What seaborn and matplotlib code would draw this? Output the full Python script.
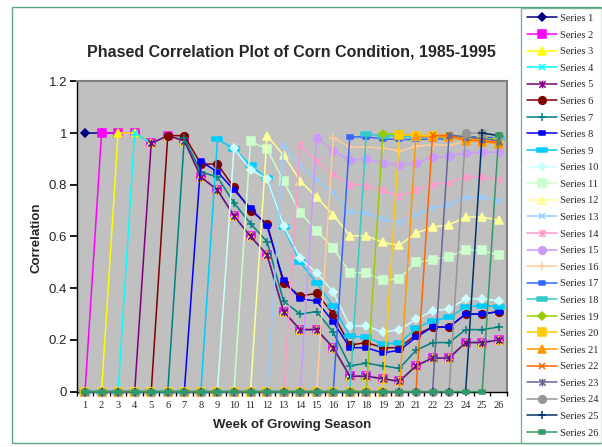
import numpy as np
import pandas as pd
import seaborn as sns
import matplotlib
matplotlib.use("Agg")
import matplotlib.pyplot as plt
from matplotlib.path import Path
from matplotlib.lines import Line2D
from matplotlib.patches import Rectangle

# Phased correlation plot - one series per starting week
weeks = list(range(1, 27))
series_names = ["Series %d" % i for i in range(1, 27)]

# values from each series' start week onward (earlier weeks are 0)
track_a = [0.96, 0.99, 0.97, 0.83, 0.78, 0.68, 0.60, 0.53, 0.31, 0.24, 0.24,
           0.17, 0.06, 0.06, 0.05, 0.04, 0.10, 0.13, 0.13, 0.19, 0.19, 0.20]
s1 = [1.0, 1.0, 1.0, 1.0] + track_a
s2 = [1.0, 1.0, 1.0] + track_a
s3 = [1.0, 1.0] + track_a
s4 = [1.0] + track_a
s5 = track_a
s6 = [0.99, 0.99, 0.88, 0.88, 0.79, 0.70, 0.65, 0.42, 0.37, 0.38, 0.30, 0.18,
      0.19, 0.17, 0.17, 0.22, 0.25, 0.25, 0.30, 0.30, 0.31]
s7 = [0.98, 0.85, 0.83, 0.73, 0.65, 0.58, 0.35, 0.30, 0.31, 0.23, 0.10, 0.11,
      0.10, 0.09, 0.16, 0.19, 0.19, 0.24, 0.24, 0.25]
s8 = [0.89, 0.85, 0.78, 0.71, 0.64, 0.43, 0.36, 0.35, 0.27, 0.17, 0.17, 0.15,
      0.16, 0.21, 0.25, 0.25, 0.30, 0.30, 0.31]
s9 = [0.975, 0.94, 0.875, 0.825, 0.635, 0.50, 0.42, 0.33, 0.215, 0.21, 0.185,
      0.187, 0.245, 0.275, 0.287, 0.328, 0.333, 0.329]
s10 = [0.942, 0.858, 0.823, 0.641, 0.515, 0.46, 0.385, 0.254, 0.254, 0.23, 0.24,
       0.28, 0.312, 0.32, 0.358, 0.36, 0.35]
s11 = [0.968, 0.938, 0.814, 0.692, 0.622, 0.555, 0.46, 0.46, 0.43, 0.437, 0.50,
       0.51, 0.522, 0.549, 0.546, 0.528]
s12 = [0.99, 0.914, 0.816, 0.751, 0.684, 0.603, 0.603, 0.577, 0.566, 0.613,
       0.636, 0.645, 0.675, 0.675, 0.663]
s13 = [0.95, 0.871, 0.817, 0.769, 0.695, 0.69, 0.667, 0.654, 0.684, 0.71, 0.723,
       0.75, 0.751, 0.737]
s14 = [0.953, 0.89, 0.842, 0.80, 0.797, 0.778, 0.758, 0.778, 0.80, 0.808, 0.83,
       0.83, 0.822]
s15 = [0.982, 0.932, 0.894, 0.90, 0.884, 0.877, 0.884, 0.906, 0.91, 0.923,
       0.926, 0.926]
s16 = [0.981, 0.946, 0.946, 0.942, 0.931, 0.948, 0.955, 0.952, 0.968, 0.968, 0.968]
s17 = [0.985, 0.985, 0.977, 0.975, 0.975, 0.977, 0.977, 0.985, 0.985, 0.98]
s18 = [0.995, 0.99, 0.988, 0.985, 0.985, 0.985, 0.98, 0.978, 0.975]
s19 = [0.997, 0.995, 0.99, 0.99, 0.985, 0.98, 0.978, 0.975]
s20 = [0.993, 0.99, 0.99, 0.985, 0.975, 0.972, 0.965]
s21 = [0.987, 0.985, 0.985, 0.97, 0.967, 0.958]
s22 = [0.991, 0.99, 0.975, 0.97, 0.963]
s23 = [0.993, 0.985, 0.978, 0.97]
s24 = [1.0, 1.0, 0.99]
s25 = [1.0, 0.99]
s26 = [0.993]

series_starts = [1, 2, 3, 4, 5, 6, 7, 8, 9, 10, 11, 12, 13, 14, 15, 16, 17, 18,
                 19, 20, 21, 22, 23, 24, 25, 26]
series_tails = [s1, s2, s3, s4, s5, s6, s7, s8, s9, s10, s11, s12, s13, s14,
                s15, s16, s17, s18, s19, s20, s21, s22, s23, s24, s25, s26]

colors = ["#000080", "#FF00FF", "#FFFF00", "#00FFFF", "#800080", "#800000",
          "#008080", "#0000FF", "#00CCFF", "#CCFFFF", "#CCFFCC", "#FFFF99",
          "#99CCFF", "#FF99CC", "#CC99FF", "#FFCC99", "#3366FF", "#33CCCC",
          "#99CC00", "#FFCC00", "#FF9900", "#FF6600", "#666699", "#969696",
          "#003366", "#339966"]

# excel style markers
star = Path([(-1, -1), (1, 1), (-1, 1), (1, -1), (0, -1.2), (0, 1.2)],
            [Path.MOVETO, Path.LINETO, Path.MOVETO, Path.LINETO, Path.MOVETO, Path.LINETO])
dash = Path([(-1, -0.45), (1, -0.45), (1, 0.45), (-1, 0.45), (-1, -0.45)],
            [Path.MOVETO, Path.LINETO, Path.LINETO, Path.LINETO, Path.CLOSEPOLY])
marker_cycle = [("D", 4.5), ("s", 5.5), ("^", 5.5), ("x", 5), (star, 5.5),
                ("o", 5.5), ("+", 6), (dash, 5), (dash, 7)]

rows = []
for name, start, tail in zip(series_names, series_starts, series_tails):
    vals = [0.0] * (start - 1) + tail
    for w, v in zip(weeks, vals):
        rows.append((name, w, v))
df = pd.DataFrame(rows, columns=["series", "week", "corr"])

sns.set_theme(style="white")
plt.rcParams["font.family"] = ["Liberation Sans", "DejaVu Sans"]

fig = plt.figure(figsize=(6.02, 4.47), dpi=100)
ax = fig.add_axes([76.75 / 602, 1 - 391.7 / 447, 430.25 / 602, 310.4 / 447])
ax.set_facecolor("#C0C0C0")

handles = []
for i, name in enumerate(series_names):
    mk, ms = marker_cycle[i % 9]
    sub = df[df.series == name]
    sns.lineplot(data=sub, x="week", y="corr", ax=ax, color=colors[i],
                 marker=mk, markersize=ms, markeredgecolor=colors[i],
                 markerfacecolor=colors[i], markeredgewidth=1.1, linewidth=1.1,
                 errorbar=None, clip_on=False, legend=False, zorder=3 + i)
    handles.append(Line2D([], [], color=colors[i], marker=mk, markersize=ms,
                          markeredgecolor=colors[i], markerfacecolor=colors[i],
                          markeredgewidth=1.1, linewidth=1.1))

ax.set_xlim(0.5, 26.5)
ax.set_ylim(0, 1.2)
ax.set_xticks(weeks)
ax.set_xticklabels([str(w) for w in weeks], family="Liberation Serif", fontsize=7.5)
ax.set_xticks(np.arange(0.5, 27, 1), minor=True)
ax.tick_params(axis="x", which="major", length=0, pad=7)
ax.tick_params(axis="x", which="minor", length=3, direction="out", color="black", bottom=True)
ax.set_yticks([0, 0.2, 0.4, 0.6, 0.8, 1.0, 1.2])
ax.set_yticklabels(["0", "0.2", "0.4", "0.6", "0.8", "1", "1.2"], fontsize=9.5)
ax.tick_params(axis="y", length=5, direction="out", color="black", left=True, pad=2)
ax.set_xlabel("")
ax.set_ylabel("")
for side in ["left", "bottom"]:
    ax.spines[side].set_color("black")
    ax.spines[side].set_linewidth(1)
for side in ["top", "right"]:
    ax.spines[side].set_color("#808080")
    ax.spines[side].set_linewidth(1.5)

fig.text(291.5 / 602, 1 - 52 / 447, "Phased Correlation Plot of Corn Condition, 1985-1995",
         ha="center", va="center", fontsize=11.5, fontweight="bold")
fig.text(37 / 602, 1 - 238 / 447, "Correlation", rotation=90, ha="center", va="center",
         fontsize=9.5, fontweight="bold")
fig.text(292 / 602, 1 - 425 / 447, "Week of Growing Season", ha="center", va="center",
         fontsize=9.5, fontweight="bold")

# chart border
fig.patches.append(Rectangle((12 / 602, 1 - 443 / 447), 589 / 602, 436 / 447,
                             transform=fig.transFigure, fill=False,
                             edgecolor="#5fa37f", linewidth=1))

leg = fig.legend(handles, series_names, loc="upper left",
                 bbox_to_anchor=(521 / 602, 1 - 8 / 447), frameon=True,
                 prop={"family": "Liberation Serif", "size": 7.5},
                 handlelength=2.9, handletextpad=0.3, labelspacing=0.7,
                 borderpad=0.55, borderaxespad=0, fancybox=False)
leg.get_frame().set_edgecolor("#5fa37f")
leg.get_frame().set_linewidth(1)

fig.savefig("out.png", dpi=100, facecolor="white")
